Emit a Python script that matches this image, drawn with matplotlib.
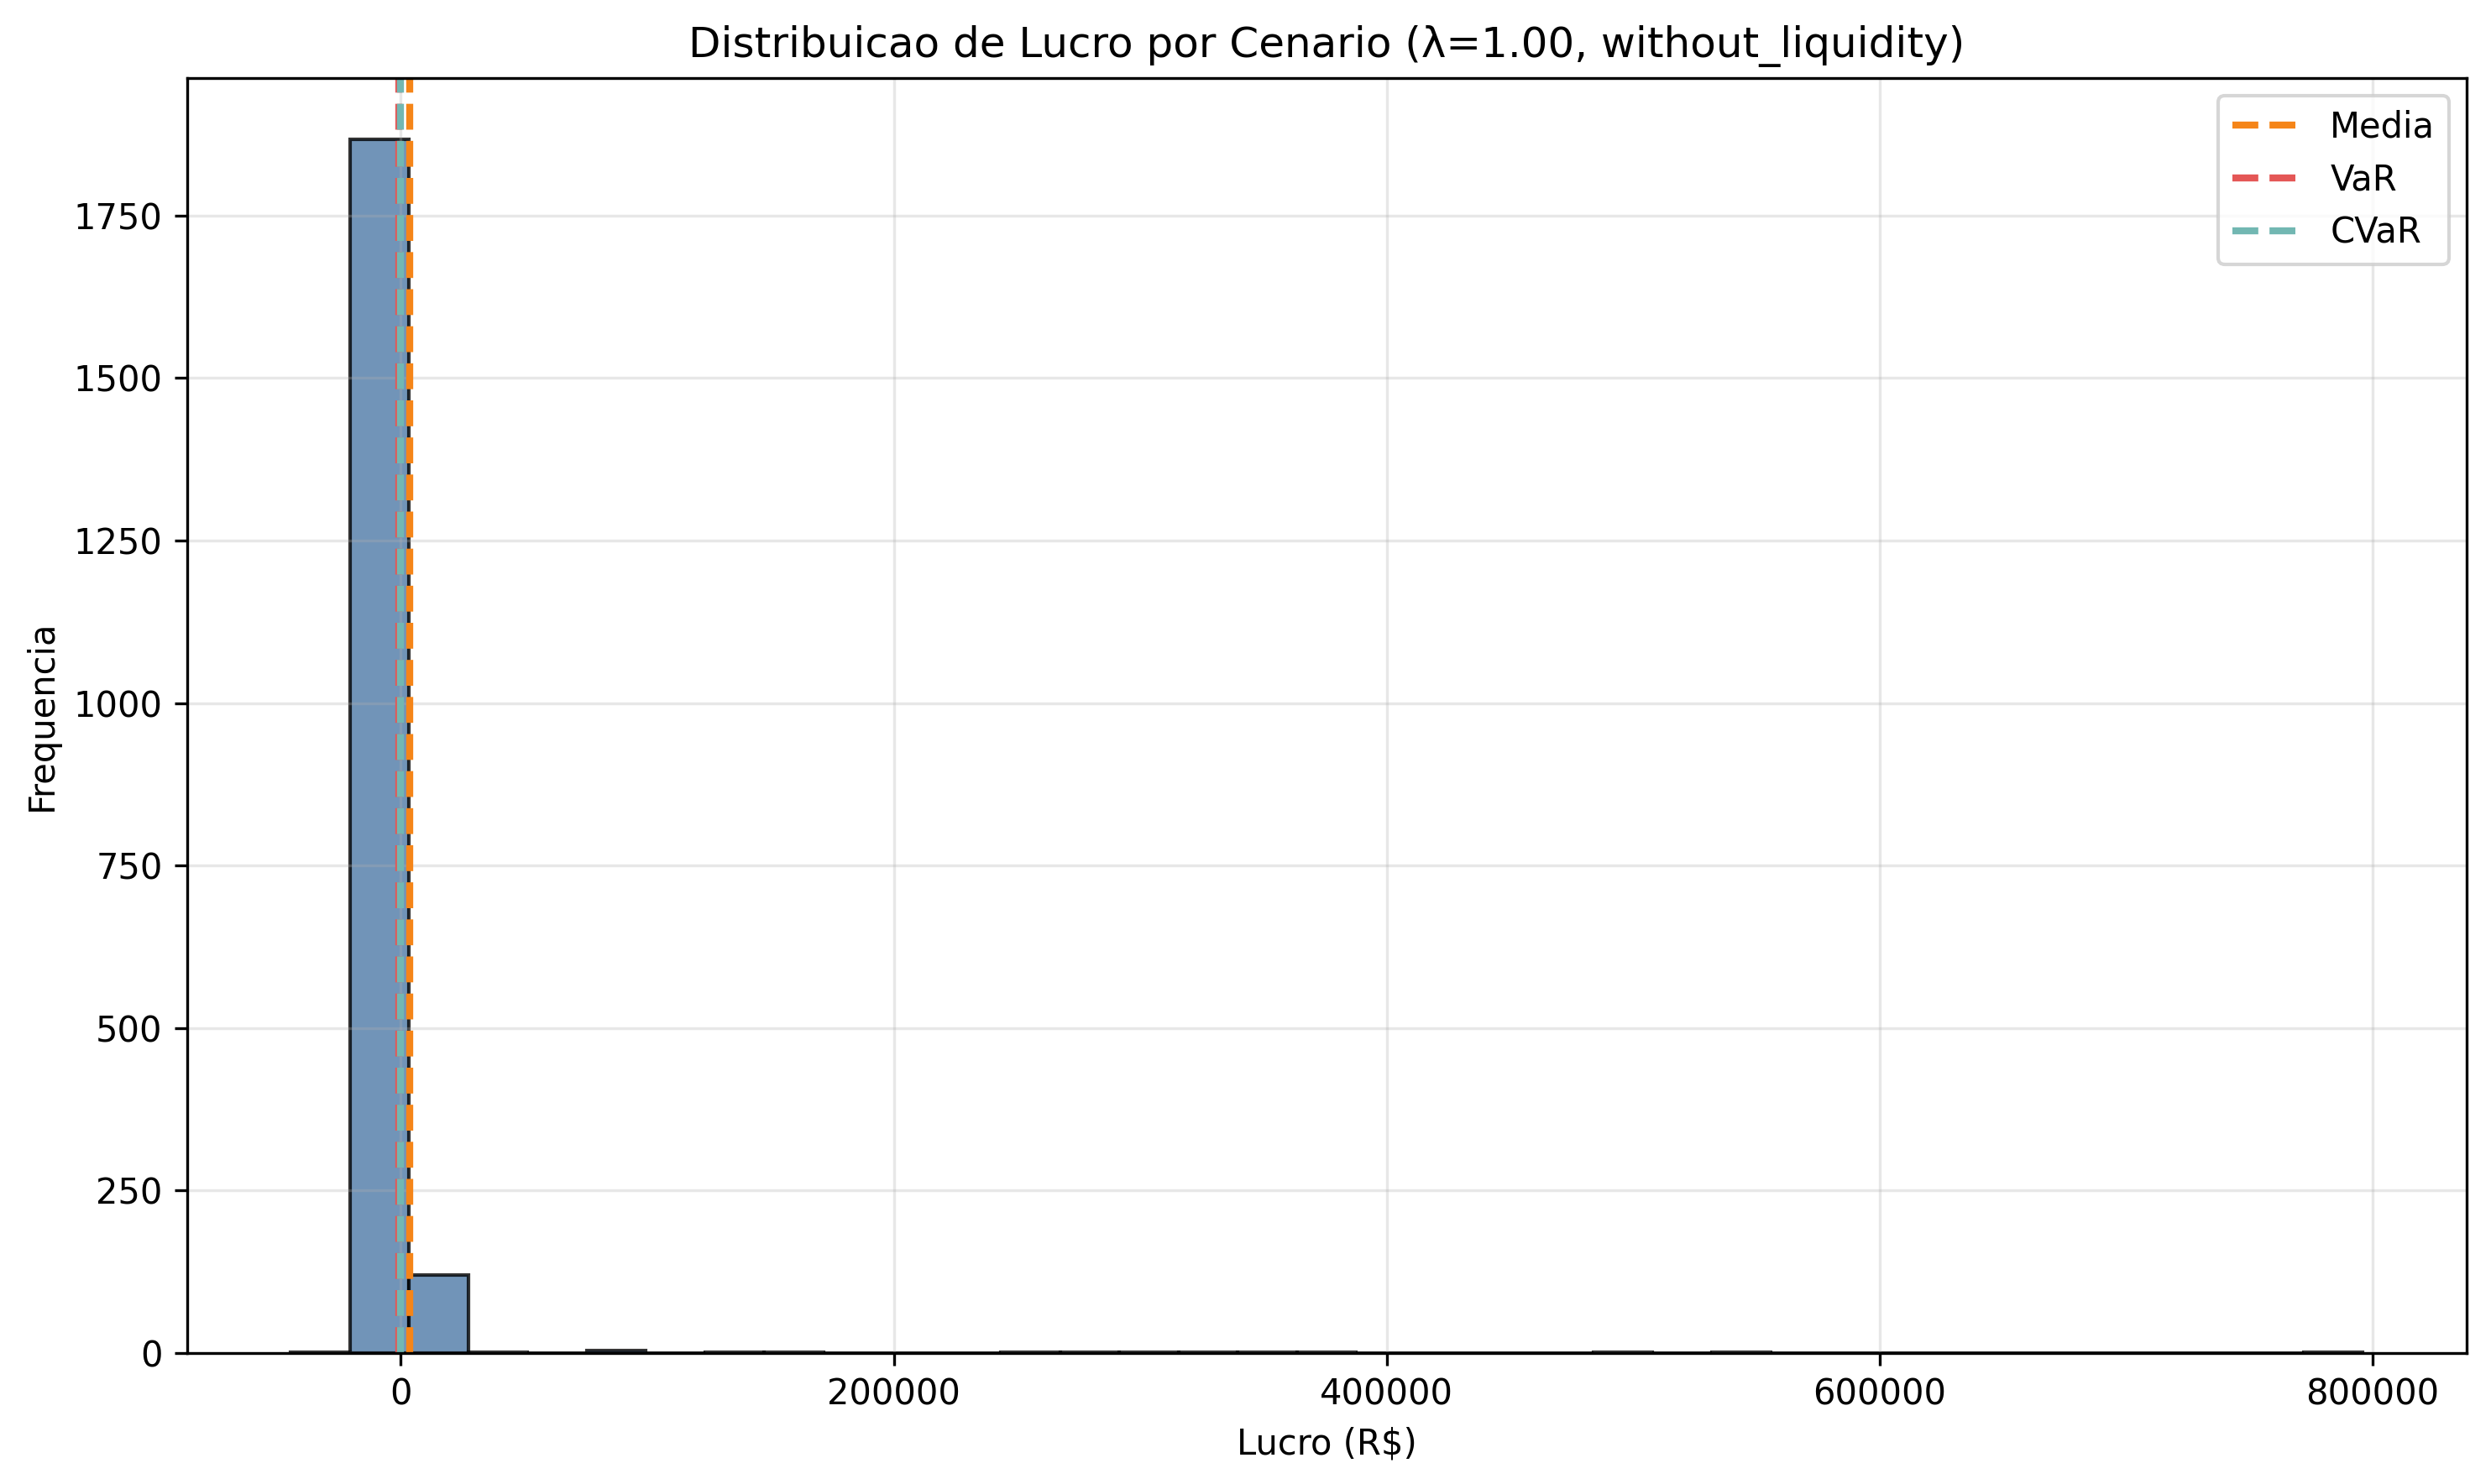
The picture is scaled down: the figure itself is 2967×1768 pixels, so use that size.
import numpy as np
import matplotlib
matplotlib.use("Agg")
import matplotlib.pyplot as plt

# ---- data ----
profit_min = -44700.0
profit_max = 796000.0
n_bins = 35
bin_counts = [1, 1868, 120, 1, 0, 3, 0, 1, 1, 0,
              0, 0, 1, 1, 1, 1, 1, 1, 0, 0,
              0, 0, 1, 0, 1, 0, 0, 0, 0, 0,
              0, 0, 0, 0, 1]
media_value = 3580.0
var_value = -740.0
cvar_value = -170.0

title = "Distribuicao de Lucro por Cenario (λ=1.00, without_liquidity)"
xlabel = "Lucro (R$)"
ylabel = "Frequencia"
line_labels = ["Media", "VaR", "CVaR"]
line_colors = ["#F58518", "#E45756", "#72B7B2"]

# ---- plot ----
edges = np.linspace(profit_min, profit_max, n_bins + 1)
centers = (edges[:-1] + edges[1:]) / 2

fig = plt.figure(figsize=(2967 / 300, 1768 / 300), dpi=300)
ax = fig.add_axes([0.07506, 0.08841, 0.91506, 0.85882])

ax.hist(centers, bins=edges, weights=bin_counts, color="#4E79A7",
        edgecolor="black", linewidth=1.0, alpha=0.8)

for val, lab, col in zip([media_value, var_value, cvar_value], line_labels, line_colors):
    ax.axvline(val, color=col, linestyle="--", linewidth=2, label=lab)

ax.set_title(title)
ax.set_xlabel(xlabel)
ax.set_ylabel(ylabel)
ax.grid(True, alpha=0.3)
ax.legend(loc="upper right")

fig.savefig("out.png", dpi=300)
